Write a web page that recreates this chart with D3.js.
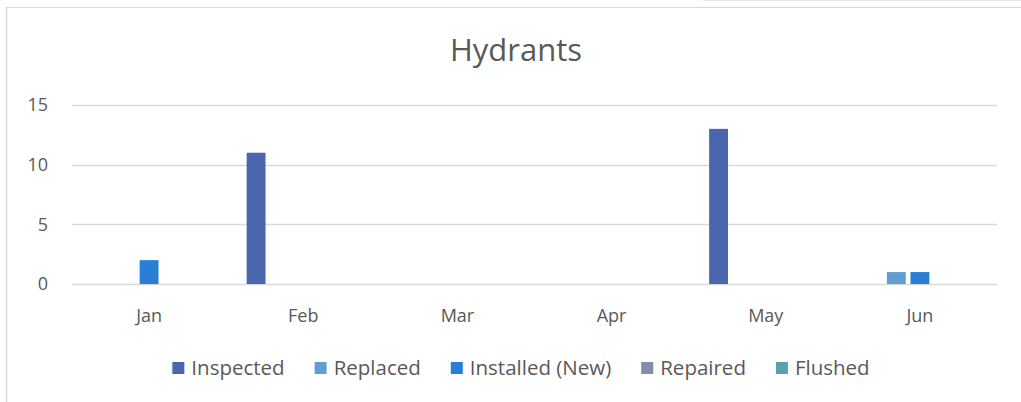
<!DOCTYPE html>
<html>
<head>
<meta charset="utf-8">
<script src="https://cdn.jsdelivr.net/npm/d3@7"></script>
<style>
  html, body { margin: 0; padding: 0; background: #fff; }
  svg { display: block; font-family: "Open Sans", "Noto Sans", sans-serif; }
</style>
</head>
<body>
<div id="chart"></div>
<script>
const months = ['Jan', 'Feb', 'Mar', 'Apr', 'May', 'Jun'];
const seriesNames = ['Inspected', 'Replaced', 'Installed (New)', 'Repaired', 'Flushed'];
const inspected = [0, 11, 0, 0, 13, 0];
const replaced = [0, 0, 0, 0, 0, 1];
const installed = [2, 0, 0, 0, 0, 1];
const repaired = [0, 0, 0, 0, 0, 0];
const flushed = [0, 0, 0, 0, 0, 0];
const yTicks = [0, 5, 10, 15];
const colors = ['#4a66ac', '#629dd1', '#297fd5', '#7f8fa9', '#5aa2ae'];

const seriesValues = [inspected, replaced, installed, repaired, flushed];

const width = 1021, height = 402;
const margin = { top: 105, right: 24, bottom: 118, left: 72 };

const svg = d3.select('#chart').append('svg')
  .attr('width', width)
  .attr('height', height);

// chart frame (partly cut off)
svg.append('line').attr('x1', 6.5).attr('x2', 6.5).attr('y1', 7).attr('y2', height)
  .attr('stroke', '#d9d9d9').attr('stroke-width', 1.5);
svg.append('line').attr('x1', 6).attr('x2', width).attr('y1', 7.5).attr('y2', 7.5)
  .attr('stroke', '#d9d9d9').attr('stroke-width', 1.2);
svg.append('line').attr('x1', 703).attr('x2', width).attr('y1', 0.5).attr('y2', 0.5)
  .attr('stroke', '#e6e6e6').attr('stroke-width', 1);

const x0 = d3.scaleBand()
  .domain(months)
  .range([margin.left, width - margin.right])
  .paddingInner(0.235)
  .paddingOuter(0.1175);

const x1 = d3.scaleBand()
  .domain(seriesNames)
  .range([0, x0.bandwidth()])
  .paddingInner(0.2)
  .paddingOuter(0.1);

const y = d3.scaleLinear()
  .domain([0, 15])
  .range([height - margin.bottom, margin.top]);

// gridlines
svg.append('g')
  .selectAll('line')
  .data(yTicks)
  .join('line')
  .attr('x1', margin.left)
  .attr('x2', width - margin.right)
  .attr('y1', d => Math.round(y(d)) + 0.5)
  .attr('y2', d => Math.round(y(d)) + 0.5)
  .attr('stroke', '#d9d9d9')
  .attr('stroke-width', 1.3);

// y axis labels
const yAxis = svg.append('g')
  .attr('transform', 'translate(' + margin.left + ',0)')
  .call(d3.axisLeft(y).tickValues(yTicks).tickSize(0).tickPadding(24));
yAxis.select('.domain').remove();
yAxis.selectAll('text')
  .attr('fill', '#595959')
  .style('font-size', '18px')
  .style('font-family', '"Open Sans", sans-serif');

// x axis labels
const xAxis = svg.append('g')
  .attr('transform', 'translate(0,' + (height - margin.bottom) + ')')
  .call(d3.axisBottom(x0).tickSize(0).tickPadding(25));
xAxis.select('.domain').remove();
xAxis.selectAll('text')
  .attr('fill', '#595959')
  .style('font-size', '18px')
  .style('font-family', '"Open Sans", sans-serif');

// bars
const groups = svg.append('g')
  .selectAll('g')
  .data(months)
  .join('g')
  .attr('transform', d => 'translate(' + x0(d) + ',0)');

groups.selectAll('rect')
  .data((m, i) => seriesNames.map((s, k) => ({ s: s, k: k, v: seriesValues[k][i] })))
  .join('rect')
  .attr('x', d => x1(d.s))
  .attr('width', x1.bandwidth())
  .attr('y', d => y(d.v))
  .attr('height', d => y(0) - y(d.v))
  .attr('fill', d => colors[d.k]);

// title
svg.append('text')
  .attr('x', 516)
  .attr('y', 61)
  .attr('text-anchor', 'middle')
  .attr('fill', '#595959')
  .style('font-size', '31px')
  .style('font-family', '"Open Sans", sans-serif')
  .text('Hydrants');

// legend
const legend = svg.append('g');
const items = legend.selectAll('g')
  .data(seriesNames)
  .join('g');
items.append('rect')
  .attr('width', 12)
  .attr('height', 12)
  .attr('y', -6)
  .attr('fill', (d, i) => colors[i]);
items.append('text')
  .attr('x', 19)
  .attr('y', 0)
  .attr('dy', '0.35em')
  .attr('fill', '#595959')
  .style('font-size', '20.5px')
  .style('font-family', '"Open Sans", sans-serif')
  .text(d => d);

let cursor = 0;
const gap = 30;
items.each(function () {
  const w = 19 + d3.select(this).select('text').node().getComputedTextLength();
  d3.select(this).attr('transform', 'translate(' + cursor + ',0)');
  cursor += w + gap;
});
const total = cursor - gap;
legend.attr('transform', 'translate(' + (521 - total / 2) + ',368)');
</script>
</body>
</html>
